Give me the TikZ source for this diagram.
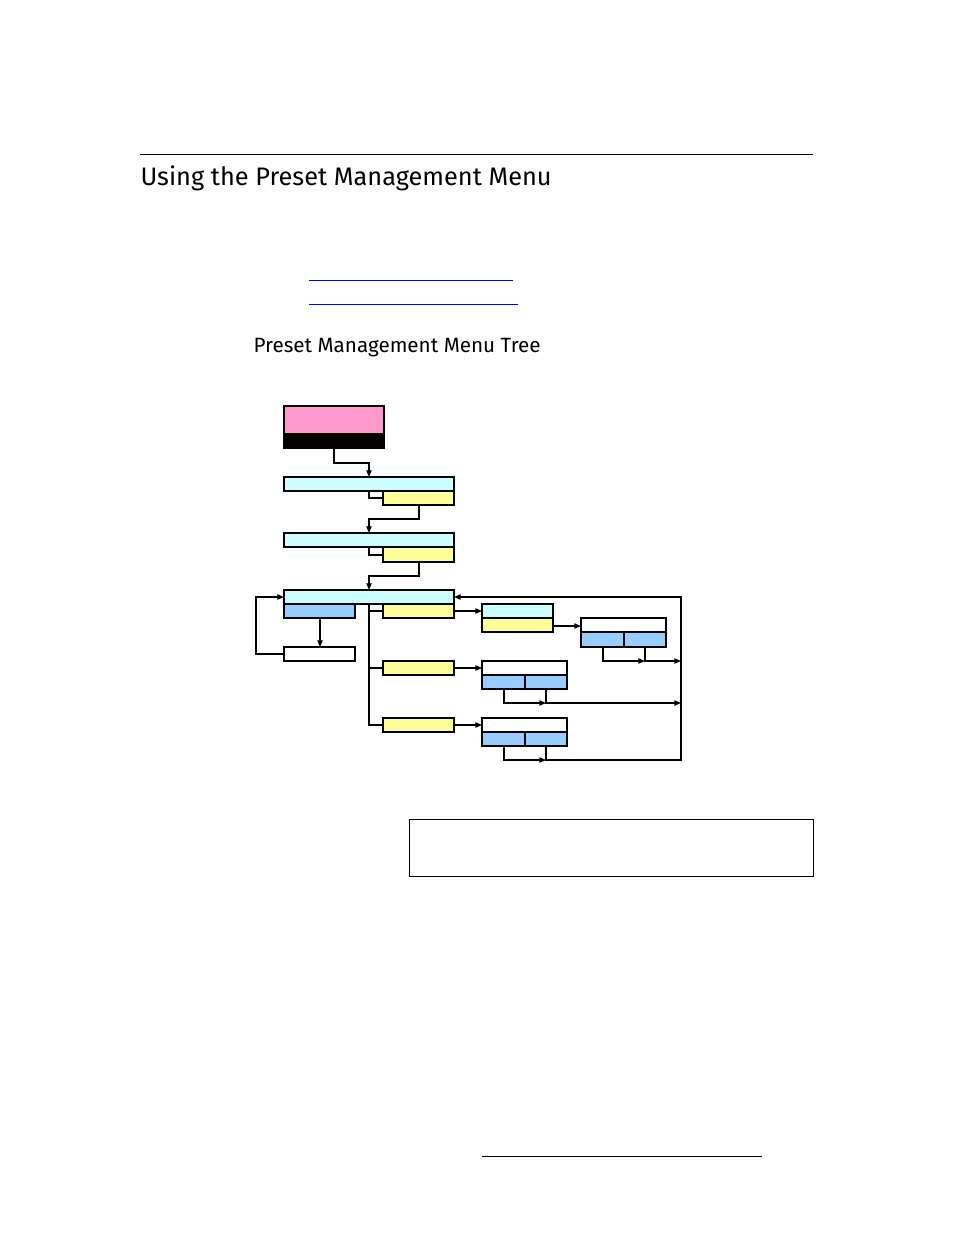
\documentclass[tikz,border=0pt]{standalone}
\usepackage{fontspec}
\setmainfont{Fira Sans}
\usetikzlibrary{arrows.meta}
\definecolor{pk}{HTML}{FF99CC}
\definecolor{cy}{HTML}{CCFFFF}
\definecolor{yl}{HTML}{FFFF99}
\definecolor{bl}{HTML}{99CCFF}
\definecolor{lk}{HTML}{0000FF}
\begin{document}
\begin{tikzpicture}[x=0.75pt,y=-0.75pt,line width=0.8pt,
  bx/.style={draw=black},
  ar/.style={-{Triangle[length=5pt,width=4pt]}}]
\useasboundingbox (0,0) rectangle (954,1235);
\draw[line width=0.6pt] (140,154) -- (813,154);
\node[anchor=west,inner sep=0,font=\fontsize{19}{22}\selectfont] (title) at (140,178) {Using the Preset Management Menu};
\draw[lk,line width=0.6pt] (309,280) -- (513,280);
\draw[lk,line width=0.6pt] (309,304) -- (518,304);
\node[anchor=west,inner sep=0,font=\fontsize{15.5}{18}\selectfont] (sub) at (253,348) {Preset Management Menu Tree};
% boxes
\draw[bx,fill=pk] (284,406) rectangle (384,434);
\draw[bx,fill=black] (284,434) rectangle (384,448);
\coordinate (p) at (334,448);
\draw[bx,fill=cy] (284,477) rectangle (454,491);
\draw[bx,fill=yl] (383,491) rectangle (454,505);
\draw[bx,fill=cy] (284,533) rectangle (454,547);
\draw[bx,fill=yl] (383,547) rectangle (454,562);
\draw[bx,fill=cy] (284,590) rectangle (454,604);
\draw[bx,fill=bl] (284,604) rectangle (355,618);
\draw[bx,fill=yl] (383,604) rectangle (454,618);
\draw[bx,fill=white] (284,647) rectangle (355,661);
\draw[bx,fill=yl] (383,661) rectangle (454,675);
\draw[bx,fill=yl] (383,718) rectangle (454,732);
\draw[bx,fill=cy] (482,604) rectangle (553,618);
\draw[bx,fill=yl] (482,618) rectangle (553,632);
\draw[bx,fill=white] (581,618) rectangle (666,632);
\draw[bx,fill=bl] (581,632) rectangle (624,647);
\draw[bx,fill=bl] (624,632) rectangle (666,647);
\draw[bx,fill=white] (482,661) rectangle (567,675);
\draw[bx,fill=bl] (482,675) rectangle (525,689);
\draw[bx,fill=bl] (525,675) rectangle (567,689);
\draw[bx,fill=white] (482,718) rectangle (567,732);
\draw[bx,fill=bl] (482,732) rectangle (525,746);
\draw[bx,fill=bl] (525,732) rectangle (567,746);
% connectors
\draw[ar] (334,448) -- (334,463) -- (369,463) -- (369,477);
\draw (369,491) -- (369,498) -- (383,498);
\draw[ar] (419,505) -- (419,519) -- (369,519) -- (369,533);
\draw (369,547) -- (369,555) -- (383,555);
\draw[ar] (419,562) -- (419,576) -- (369,576) -- (369,590);
\draw[ar] (320,618) -- (320,647);
\draw[ar] (284,654) -- (256,654) -- (256,597) -- (284,597);
\draw (369,604) -- (369,725) -- (383,725);
\draw (369,611) -- (383,611);
\draw (369,668) -- (383,668);
\draw[ar] (454,611) -- (482,611);
\draw[ar] (553,626) -- (581,626);
\draw[ar] (603,647) -- (603,661) -- (645,661);
\draw[ar] (645,647) -- (645,661) -- (681,661);
\draw[ar] (454,668) -- (482,668);
\draw[ar] (504,689) -- (504,703) -- (546,703);
\draw[ar] (546,689) -- (546,703) -- (681,703);
\draw[ar] (454,725) -- (482,725);
\draw[ar] (504,746) -- (504,760) -- (546,760);
\draw[ar] (546,746) -- (546,760) -- (681,760) -- (681,597) -- (454,597);
% note box and footer
\draw[line width=0.6pt] (409,819) rectangle (813,876);
\draw[line width=0.6pt] (482,1156) -- (762,1156);
\end{tikzpicture}
\end{document}
